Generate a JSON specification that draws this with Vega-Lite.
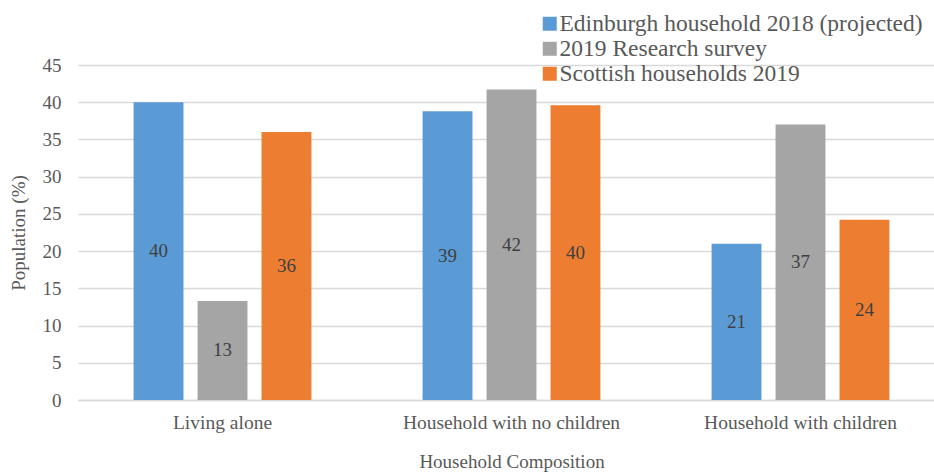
{
  "$schema": "https://vega.github.io/schema/vega-lite/v6.json",
  "width": 856,
  "height": 335,
  "autosize": {"type": "none"},
  "padding": {"left": 78, "top": 65, "right": 0, "bottom": 76},
  "background": "white",
  "config": {
    "font": "Liberation Serif",
    "view": {"stroke": null}
  },
  "data": {
    "values": [
      {"category": "Living alone", "series": "Edinburgh household 2018 (projected)", "value": 40.0},
      {"category": "Living alone", "series": "2019 Research survey", "value": 13.3},
      {"category": "Living alone", "series": "Scottish households 2019", "value": 36.0},
      {"category": "Household with no children", "series": "Edinburgh household 2018 (projected)", "value": 38.8},
      {"category": "Household with no children", "series": "2019 Research survey", "value": 41.7},
      {"category": "Household with no children", "series": "Scottish households 2019", "value": 39.6},
      {"category": "Household with children", "series": "Edinburgh household 2018 (projected)", "value": 21.0},
      {"category": "Household with children", "series": "2019 Research survey", "value": 37.0},
      {"category": "Household with children", "series": "Scottish households 2019", "value": 24.2}
    ]
  },
  "encoding": {
    "x": {
      "field": "category",
      "type": "nominal",
      "sort": ["Living alone", "Household with no children", "Household with children"],
      "scale": {"range": [0, 867], "paddingInner": 0.336, "paddingOuter": 0.168},
      "axis": {
        "title": "Household Composition",
        "labelFont": "Liberation Serif",
        "titleFont": "Liberation Serif",
        "labelColor": "#595959",
        "titleColor": "#595959",
        "titleFontWeight": "normal",
        "labelAngle": 0,
        "labelFontSize": 19.5,
        "titleFontSize": 19,
        "labelPadding": 13,
        "labelLimit": 400,
        "titlePadding": 21,
        "ticks": false,
        "domainColor": "#d9d9d9",
        "domainWidth": 1.5
      }
    },
    "xOffset": {
      "field": "series",
      "type": "nominal",
      "sort": ["Edinburgh household 2018 (projected)", "2019 Research survey", "Scottish households 2019"],
      "scale": {"paddingInner": 0.22, "paddingOuter": 0.11}
    }
  },
  "layer": [
    {
      "mark": {"type": "bar"},
      "encoding": {
        "y": {
          "field": "value",
          "type": "quantitative",
          "scale": {"domain": [0, 45], "nice": false},
          "axis": {
            "title": "Population (%)",
            "labelFont": "Liberation Serif",
            "titleFont": "Liberation Serif",
            "labelColor": "#595959",
            "titleColor": "#595959",
            "titleFontWeight": "normal",
            "values": [0, 5, 10, 15, 20, 25, 30, 35, 40, 45],
            "labelFontSize": 19,
            "titleFontSize": 19,
            "labelPadding": 17,
            "titlePadding": 14,
            "ticks": false,
            "domain": false,
            "gridColor": "#d9d9d9",
            "gridWidth": 1.5
          }
        },
        "color": {
          "field": "series",
          "type": "nominal",
          "sort": ["Edinburgh household 2018 (projected)", "2019 Research survey", "Scottish households 2019"],
          "scale": {"range": ["#5B9BD5", "#A5A5A5", "#ED7D31"]},
          "legend": {
            "title": null,
            "orient": "none",
            "legendX": 460,
            "legendY": -53,
            "symbolType": "square",
            "symbolSize": 196,
            "symbolStrokeWidth": 0,
            "labelFont": "Liberation Serif",
            "labelFontSize": 23.5,
            "labelColor": "#595959",
            "labelLimit": 500,
            "rowPadding": 0,
            "labelOffset": -2
          }
        }
      }
    },
    {
      "mark": {"type": "text", "font": "Liberation Serif", "fontSize": 19, "color": "#404040", "baseline": "middle"},
      "encoding": {
        "y": {"field": "value", "type": "quantitative", "scale": {"domain": [0, 90], "nice": false}, "axis": null},
        "text": {"field": "value", "type": "quantitative", "format": ".0f"}
      }
    }
  ],
  "resolve": {"scale": {"y": "independent"}}
}
